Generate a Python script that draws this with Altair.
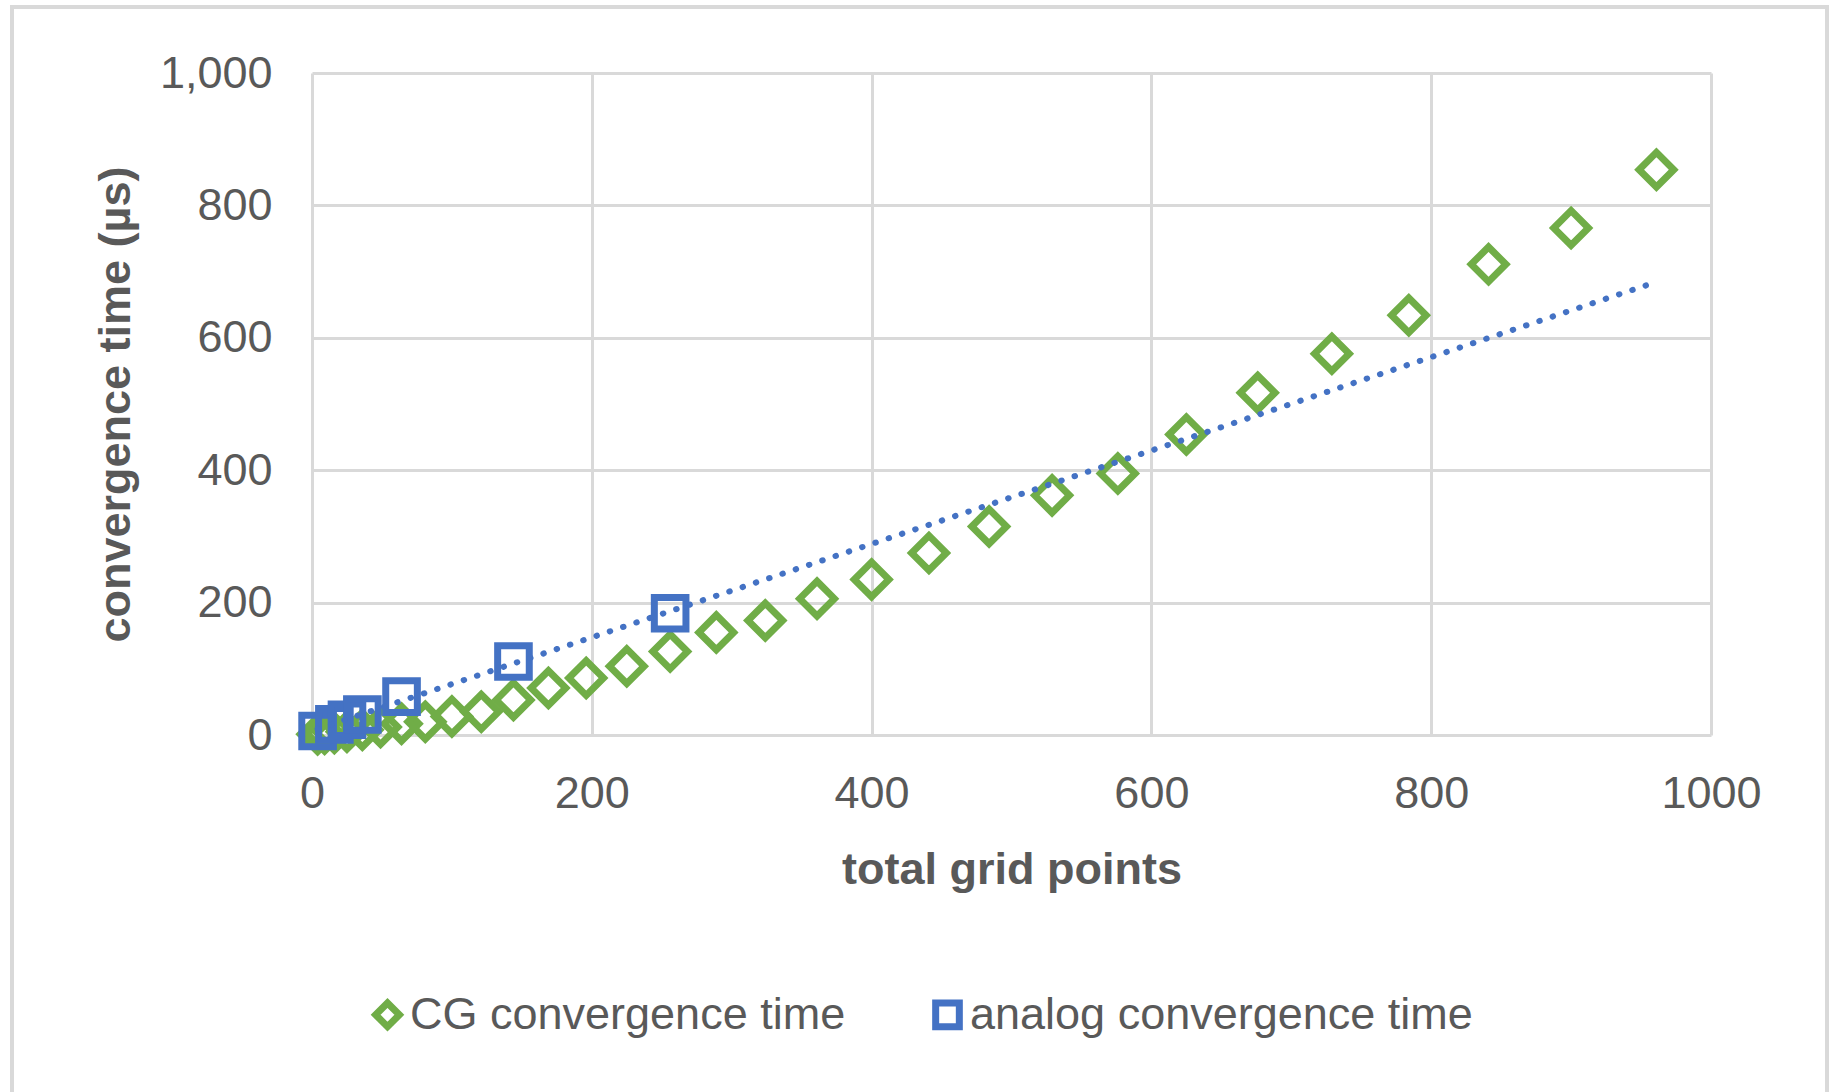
import altair as alt
import pandas as pd

# Conjugate-gradient solver: grid sizes n x n for n = 2..31
cg_points = [4, 9, 16, 25, 36, 49, 64, 81, 100, 121, 144, 169, 196, 225, 256,
             289, 324, 361, 400, 441, 484, 529, 576, 625, 676, 729, 784, 841, 900, 961]
cg_time = [1, 2, 3, 5, 8, 12, 17, 20, 28, 35, 53, 71, 86, 104, 126,
           155, 173, 206, 235, 275, 315, 362, 395, 454, 517, 576, 634, 711, 766, 854]

# Analog solver
analog_points = [4, 16, 25, 36, 64, 144, 256]
analog_time = [6, 16, 23, 31, 58, 111, 184]

series_names = ["CG convergence time", "analog convergence time"]
series_colors = ["#70AD47", "#4472C4"]
series_shapes = ["diamond", "square"]
marker_sizes = [1200, 1000]

x_ticks = [0, 200, 400, 600, 800, 1000]
y_ticks = [0, 200, 400, 600, 800, 1000]

FONT = "Liberation Sans"
TEXT = "#595959"
GRID = "#D9D9D9"

cg_df = pd.DataFrame({"series": series_names[0], "points": cg_points, "time": cg_time})
analog_df = pd.DataFrame({"series": series_names[1], "points": analog_points, "time": analog_time})

x_enc = alt.X(
    "points:Q",
    scale=alt.Scale(domain=[0, 1000], nice=False, zero=True),
    axis=alt.Axis(
        values=x_ticks, format="d", title="total grid points",
        grid=True, gridColor=GRID, gridWidth=3, domain=False, ticks=False,
        labelFont=FONT, labelFontSize=45, labelColor=TEXT, labelPadding=36,
        labelFlush=False,
        titleFont=FONT, titleFontSize=45, titleFontWeight="bold", titleColor=TEXT,
        titlePadding=31,
    ),
)
y_enc = alt.Y(
    "time:Q",
    scale=alt.Scale(domain=[0, 1000], nice=False),
    axis=alt.Axis(
        values=y_ticks, format=",d", title="convergence time (µs)",
        grid=True, gridColor=GRID, gridWidth=3, domain=False, ticks=False,
        labelFont=FONT, labelFontSize=45, labelColor=TEXT, labelPadding=40,
        labelFlush=False,
        titleFont=FONT, titleFontSize=45, titleFontWeight="bold", titleColor=TEXT,
        titlePadding=21,
    ),
)

legend = alt.Legend(
    orient="none", legendX=53, legendY=919, direction="horizontal", title=None,
    labelFont=FONT, labelFontSize=45, labelColor=TEXT, labelOffset=0, labelLimit=0,
    symbolSize=560, symbolStrokeWidth=7, columnPadding=75,
)
color_enc = alt.Color("series:N", scale=alt.Scale(domain=series_names, range=series_colors), legend=legend)
shape_enc = alt.Shape("series:N", scale=alt.Scale(domain=series_names, range=series_shapes), legend=legend)

# Outer chart frame
frame = alt.Chart(pd.DataFrame({"k": [0]})).mark_rect(
    fill="transparent", stroke=GRID, strokeWidth=4
).encode(
    x=alt.value(-300), x2=alt.value(1515), y=alt.value(-66), y2=alt.value(1100)
)

cg_marks = alt.Chart(cg_df).mark_point(
    filled=False, strokeWidth=7, opacity=1, size=marker_sizes[0]
).encode(x=x_enc, y=y_enc, color=color_enc, shape=shape_enc)

analog_marks = alt.Chart(analog_df).mark_point(
    filled=False, strokeWidth=7, opacity=1, size=marker_sizes[1]
).encode(x=x_enc, y=y_enc, color=color_enc, shape=shape_enc)

# Linear trendline of the analog series, forecast out to the largest grid
trend = alt.Chart(analog_df).transform_regression(
    "points", "time", method="linear", extent=[min(analog_points), max(cg_points)]
).mark_line(
    color=series_colors[1], strokeWidth=6, strokeDash=[0.5, 13.5], strokeCap="round"
).encode(x=x_enc, y=y_enc)

chart = alt.layer(frame, cg_marks, analog_marks, trend).properties(
    width=1399,
    height=662,
    padding={"left": 312, "top": 73, "right": 122, "bottom": 357},
    autosize=alt.AutoSizeParams(type="none"),
    background="white",
).configure_view(stroke="transparent")

chart.save("out.html", embed_options={"renderer": "svg", "actions": False})
